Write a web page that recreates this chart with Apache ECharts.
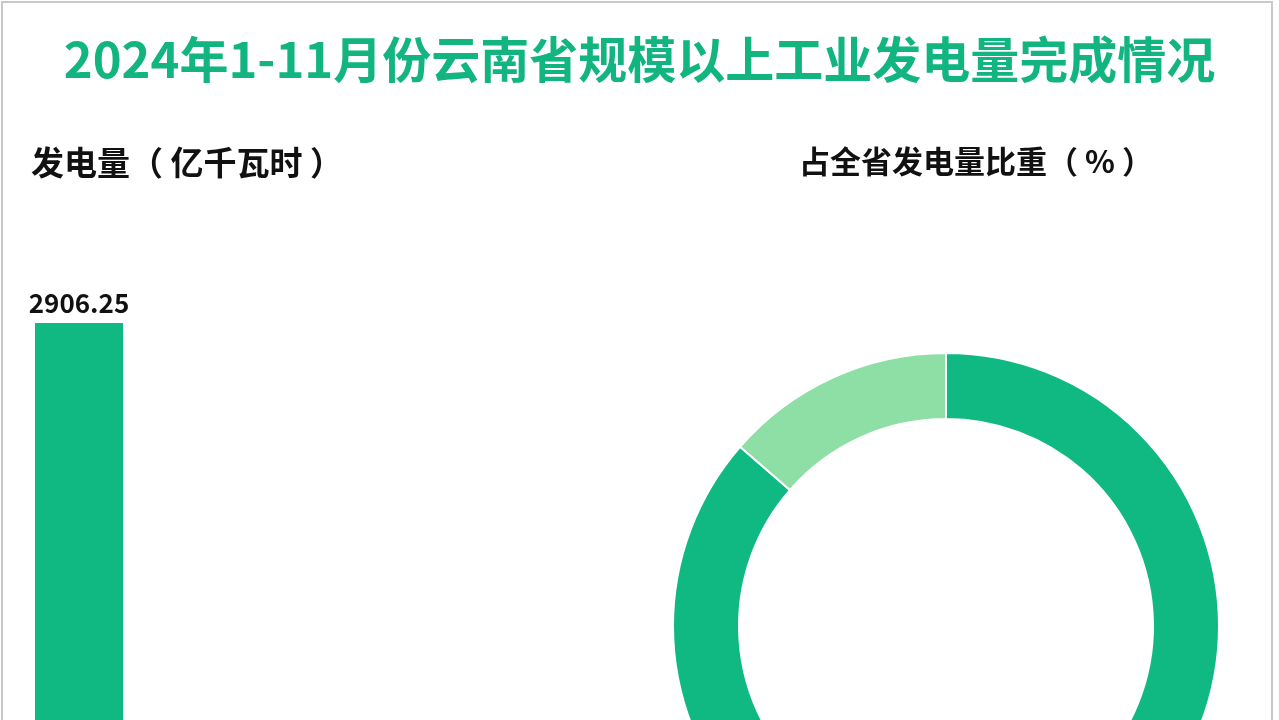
<!DOCTYPE html>
<html>
<head>
<meta charset="utf-8">
<script src="https://cdn.jsdelivr.net/npm/echarts@6/dist/echarts.min.js"></script>
<style>
html,body{margin:0;padding:0;background:#fff;overflow:hidden;}
#c{width:1279px;height:1000px;}
</style>
</head>
<body>
<div id="c"></div>
<script>
// Data
const barCategories = ['规模以上工业发电量'];
const barValues = [2906.25];
const shareNames = ['云南省规模以上工业发电量', '其他'];
const shareValues = [86.4, 13.6];

const green = '#10b981';
const lightGreen = '#8ddfa6';
const font = '"Noto Sans CJK SC", "Noto Sans", sans-serif';

const chart = echarts.init(document.getElementById('c'), null, {renderer: 'canvas'});
chart.setOption({
  backgroundColor: '#fff',
  animation: false,
  title: [
    {text: '2024年1-11月份云南省规模以上工业发电量完成情况', left: 'center', top: 30,
     textStyle: {color: '#12b57f', fontSize: 49, fontWeight: 'bold', fontFamily: font}},
    {text: '发电量（ 亿千瓦时 ）', left: 26, top: 141,
     textStyle: {color: '#111', fontSize: 33, fontWeight: 'bold', fontFamily: font}},
    {text: '占全省发电量比重（ % ）', left: 794, top: 141,
     textStyle: {color: '#111', fontSize: 31, fontWeight: 'bold', fontFamily: font}}
  ],
  graphic: [{
    type: 'rect', silent: true, z: 100,
    shape: {x: 2, y: 2, width: 1270, height: 1200},
    style: {fill: 'none', stroke: '#c9c9c9', lineWidth: 2}
  }],
  grid: {left: 35, top: 323, width: 88, height: 600, containLabel: false},
  xAxis: {type: 'category', data: barCategories, show: false},
  yAxis: {type: 'value', min: 0, max: Math.max(...barValues), show: false},
  series: [
    {
      type: 'bar', data: barValues, barWidth: '100%',
      itemStyle: {color: green},
      label: {show: true, position: 'top', distance: 7, color: '#111', fontSize: 26,
              fontWeight: 'bold', fontFamily: font}
    },
    {
      type: 'pie', center: [946, 626], radius: [207, 273], startAngle: 90, clockwise: true,
      label: {show: false}, labelLine: {show: false},
      itemStyle: {borderColor: '#fff', borderWidth: 2},
      data: shareNames.map((n, i) => ({name: n, value: shareValues[i],
        itemStyle: {color: i === 0 ? green : lightGreen}}))
    }
  ]
});
</script>
</body>
</html>
